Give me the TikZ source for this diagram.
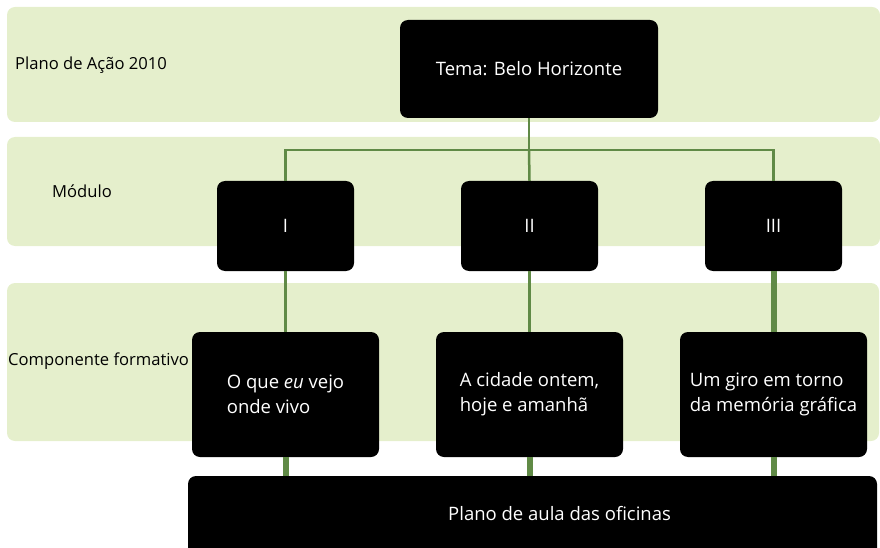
\documentclass[tikz,border=0pt]{standalone}
\usepackage{fontspec}
\setmainfont{Open Sans}
\definecolor{bandgreen}{RGB}{229,239,204}
\definecolor{linkgreen}{RGB}{96,138,70}
\begin{document}
\begin{tikzpicture}[x=1pt,y=-1pt,
  band/.style={fill=bandgreen, rounded corners=8pt},
  blackbox/.style={fill=black, text=white, rounded corners=8pt, align=left, inner sep=0pt,
    font=\fontsize{18.5}{25}\selectfont},
  lbl/.style={anchor=west, inner sep=0pt},
  link/.style={draw=linkgreen, line width=2.5pt},
  thicklink/.style={draw=linkgreen, line width=6pt},
  font=\fontsize{16.6}{23}\selectfont]
\useasboundingbox (0,0) rectangle (880,548);
% bands
\fill[band] (7,7) rectangle (880,122);
\fill[band] (7,137) rectangle (880,246);
\fill[band] (7,283) rectangle (879,441);
\node[lbl] (plano) at (15,65) {Plano de Ação 2010};
\node[lbl] (modulo) at (52,191) {Módulo};
\node[lbl] (comp) at (8,361) {Componente formativo};
% boxes
\node[blackbox, minimum width=258pt, minimum height=98pt] (tema) at (529,69) {Tema: Belo Horizonte};
\node[blackbox, minimum width=137pt, minimum height=90pt] (m1) at (285.5,226) {I};
\node[blackbox, minimum width=137pt, minimum height=90pt] (m2) at (529.5,226) {II};
\node[blackbox, minimum width=137pt, minimum height=90pt] (m3) at (773.5,226) {III};
\node[blackbox, minimum width=187pt, minimum height=125pt] (c1) at (285.5,394.5) {O que \textit{eu} vejo\\onde vivo};
\node[blackbox, minimum width=187pt, minimum height=125pt] (c2) at (529.5,394.5) {A cidade ontem,\\hoje e amanhã};
\node[blackbox, minimum width=187pt, minimum height=125pt] (c3) at (773.5,394.5) {Um giro em torno\\da memória gráfica};
\node[blackbox, minimum width=689pt, minimum height=90pt] (aula) at (532.5,521) {};
\node[lbl, text=white, font=\fontsize{18.5}{25}\selectfont] (aulatxt) at (448,514) {Plano de aula das oficinas};
% connectors
\coordinate (fork) at (529,150);
\draw[link] (tema.south) -- (fork);
\draw[link] (m1.north) |- (fork) -| (m3.north);
\draw[link] (fork) -- (m2.north);
\draw[link] (m1.south) -- (c1.north);
\draw[link] (m2.south) -- (c2.north);
\draw[thicklink] (m3.south) -- (c3.north);
\draw[thicklink] (c1.south) -- (c1.south |- aula.north);
\draw[thicklink] (c2.south) -- (c2.south |- aula.north);
\draw[thicklink] (c3.south) -- (c3.south |- aula.north);
\end{tikzpicture}
\end{document}
